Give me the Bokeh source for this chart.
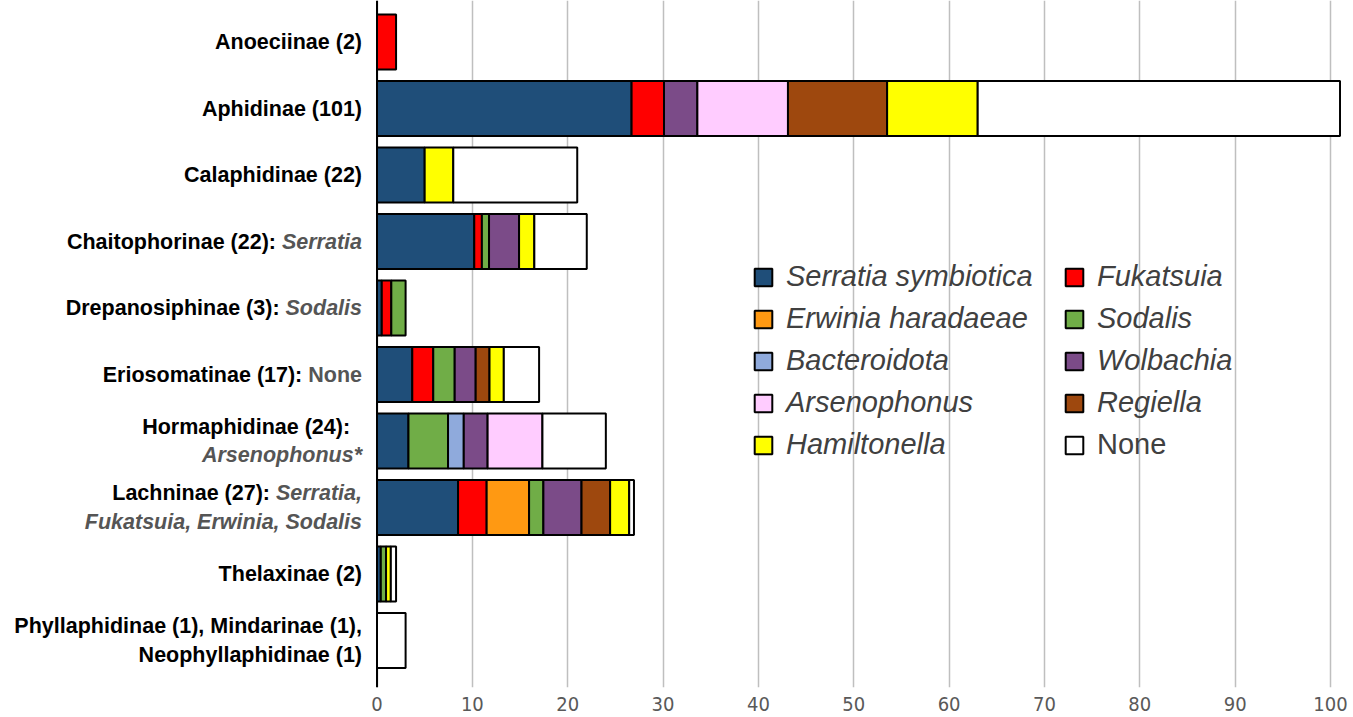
import numpy as np
from bokeh.plotting import figure
from bokeh.models import (ColumnDataSource, Range1d, FixedTicker, Span, Legend,
                          LegendItem)
from bokeh.core.properties import value
from bokeh.embed import file_html
from bokeh.resources import INLINE

# ---------------- data ----------------
categories = ["Anoeciinae", "Aphidinae", "Calaphidinae", "Chaitophorinae",
              "Drepanosiphinae", "Eriosomatinae", "Hormaphidinae", "Lachninae",
              "Thelaxinae", "Phyllaphidinae/Mindarinae/Neophyllaphidinae"]

# each label: list of lines, each line = (bold black part, grey note part)
label_lines = [
    [("Anoeciinae (2)", "")],
    [("Aphidinae (101)", "")],
    [("Calaphidinae (22)", "")],
    [("Chaitophorinae (22): ", "Serratia")],
    [("Drepanosiphinae (3): ", "Sodalis")],
    [("Eriosomatinae (17): ", "None")],
    [("Hormaphidinae (24):  ", ""), ("", "Arsenophonus*")],
    [("Lachninae (27): ", "Serratia,"), ("", "Fukatsuia, Erwinia, Sodalis")],
    [("Thelaxinae (2)", "")],
    [("Phyllaphidinae (1), Mindarinae (1),", ""), ("Neophyllaphidinae (1)", "")],
]

series_names = ["Serratia symbiotica", "Fukatsuia", "Erwinia haradaeae", "Sodalis",
                "Bacteroidota", "Wolbachia", "Arsenophonus", "Regiella",
                "Hamiltonella", "None"]
series_colors = ["#1F4E79", "#FF0000", "#FF9912", "#70AD47", "#8FAADC",
                 "#7B4B88", "#FFCCFF", "#9E480E", "#FFFF00", "#FFFFFF"]

serratia     = [0, 26.7, 5, 10.2, 0.5, 3.7, 3.3, 8.5, 0.4, 0]
fukatsuia    = [2, 3.4, 0, 0.8, 1.0, 2.2, 0, 3.0, 0, 0]
erwinia      = [0, 0, 0, 0, 0, 0, 0, 4.45, 0, 0]
sodalis      = [0, 0, 0, 0.75, 1.5, 2.25, 4.15, 1.5, 0.55, 0]
bacteroidota = [0, 0, 0, 0, 0, 0, 1.65, 0, 0, 0]
wolbachia    = [0, 3.5, 0, 3.15, 0, 2.2, 2.5, 4.0, 0, 0]
arsenophonus = [0, 9.5, 0, 0, 0, 0, 5.75, 0, 0, 0]
regiella     = [0, 10.4, 0, 0, 0, 1.45, 0, 3.0, 0, 0]
hamiltonella = [0, 9.5, 3, 1.6, 0, 1.5, 0, 2.0, 0.5, 0]
none         = [0, 38.0, 13, 5.5, 0, 3.7, 6.65, 0.5, 0.55, 3]

x_ticks = [0, 10, 20, 30, 40, 50, 60, 70, 80, 90, 100]

series_values = [serratia, fukatsuia, erwinia, sodalis, bacteroidota,
                 wolbachia, arsenophonus, regiella, hamiltonella, none]

# ---------------- figure ----------------
n = len(categories)
ys = np.arange(n)

W, H = 1353, 717
x0_px = 376.5            # pixel of value 0
px_per_unit = 9.535
frame_h = 687
row_px = 66.5
top_pad = 41.5 / row_px

p = figure(width=W, height=H,
           x_range=Range1d(-x0_px / px_per_unit, (W - x0_px) / px_per_unit),
           y_range=Range1d(-top_pad + frame_h / row_px, -top_pad),
           output_backend="svg", toolbar_location=None,
           min_border_left=0, min_border_right=0,
           min_border_top=0, min_border_bottom=H - frame_h)
p.outline_line_color = None
p.background_fill_color = "white"
p.border_fill_color = "white"

p.yaxis.visible = False
p.ygrid.visible = False
p.xgrid.grid_line_color = "#BFBFBF"
p.xgrid.grid_line_width = 1.5
p.xaxis.ticker = FixedTicker(ticks=x_ticks)
p.xaxis.axis_line_color = None
p.xaxis.major_tick_line_color = None
p.xaxis.minor_tick_line_color = None
p.xaxis.major_label_standoff = 3
p.xaxis.major_label_text_font = "DejaVu Sans Condensed, Liberation Sans"
p.xaxis.major_label_text_font_size = "20px"
p.xaxis.major_label_text_color = "#595959"

# ---------------- bars ----------------
renderers = []
cum = np.zeros(n)
for name, col, vals in zip(series_names, series_colors, series_values):
    v = np.array(vals, dtype=float)
    left = cum.copy()
    right = cum + v
    mask = v > 0
    src = ColumnDataSource(dict(y=ys[mask], left=left[mask], right=right[mask]))
    r = p.hbar(y="y", left="left", right="right", height=0.83, source=src,
               fill_color=col, line_color="black", line_width=2)
    renderers.append(r)
    cum = right

p.add_layout(Span(location=0, dimension="height", line_color="black", line_width=2))

# ---------------- category labels ----------------
char_w = {' ': 278, ',': 278, '*': 389, ':': 333, 'A': 722, 'E': 667, 'F': 611,
          'N': 722, 'S': 667, 'a': 556, 'd': 611, 'e': 556, 'h': 611, 'i': 278,
          'k': 556, 'l': 278, 'n': 611, 'o': 611, 'p': 611, 'r': 389, 's': 556,
          't': 333, 'u': 611, 'w': 778}
fs = 21.5
gap = 15


def text_w(s):
    return sum(char_w.get(c, 556) for c in s) * fs / 1000.0


bold = dict(x=[], y=[], text=[], xo=[], yo=[])
note_it = dict(x=[], y=[], text=[], xo=[], yo=[])
note_up = dict(x=[], y=[], text=[], xo=[], yo=[])
line_gap = 28.6
for i, lines in enumerate(label_lines):
    k = len(lines)
    for j, (b, nt) in enumerate(lines):
        yo = (j - (k - 1) / 2.0) * line_gap
        if nt:
            d = note_up if nt == "None" else note_it
            d["x"].append(0); d["y"].append(i); d["text"].append(nt)
            d["xo"].append(-gap); d["yo"].append(yo)
        if b:
            bs = b.rstrip()
            off = gap + text_w(nt) + text_w(b[len(bs):])
            bold["x"].append(0); bold["y"].append(i); bold["text"].append(bs)
            bold["xo"].append(-off); bold["yo"].append(yo)

common = dict(x="x", y="y", text="text", x_offset="xo", y_offset="yo",
              text_align="right", text_baseline="middle",
              text_font=value("Liberation Sans"), text_font_size="21.5px")
p.text(source=ColumnDataSource(bold), text_font_style="bold",
       text_color="black", **common)
p.text(source=ColumnDataSource(note_it), text_font_style="bold italic",
       text_color="#555555", **common)
p.text(source=ColumnDataSource(note_up), text_font_style="bold",
       text_color="#555555", **common)

# ---------------- legend ----------------
leg_style = dict(label_text_font="Liberation Sans", label_text_font_size="29px",
                 label_text_color="#404040", glyph_width=22, glyph_height=22,
                 label_standoff=12, spacing=9, padding=0, margin=0,
                 border_line_color=None, background_fill_alpha=0)

col1 = [0, 2, 4, 6, 8]
col2 = [1, 3, 5, 7]
leg1 = Legend(items=[LegendItem(label=series_names[i], renderers=[renderers[i]]) for i in col1],
              location=(752, 226), label_text_font_style="italic", **leg_style)
leg2 = Legend(items=[LegendItem(label=series_names[i], renderers=[renderers[i]]) for i in col2],
              location=(1063, 268), label_text_font_style="italic", **leg_style)
leg3 = Legend(items=[LegendItem(label=series_names[9], renderers=[renderers[9]])],
              location=(1063, 226), label_text_font_style="normal", **leg_style)
for lg in (leg1, leg2, leg3):
    p.add_layout(lg)

open("out.html", "w").write(file_html(p, INLINE))
